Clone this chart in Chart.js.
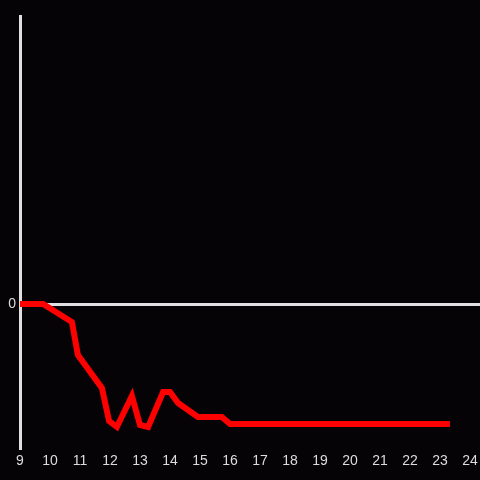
<!DOCTYPE html>
<html>
<head>
<meta charset="utf-8">
<style>
  html, body { margin: 0; padding: 0; background: #050306; }
  #wrap { width: 480px; height: 480px; }
</style>
<script src="https://cdn.jsdelivr.net/npm/chart.js@4"></script>
</head>
<body>
<div id="wrap"><canvas id="c" width="480" height="480"></canvas></div>
<script>
const hours = [9.0, 9.77, 10.73, 10.93, 11.73, 11.97, 12.23, 12.73, 13.0, 13.27, 13.77, 14.0, 14.27, 14.93, 15.73, 16.0, 23.33];
const values = [0, 0, -12.5, -35.4, -58.3, -81.3, -85.4, -63.9, -84, -85.4, -61.1, -61.1, -68.8, -78.5, -78.5, -83.3, -83.3];
const xTicks = [9, 10, 11, 12, 13, 14, 15, 16, 17, 18, 19, 20, 21, 22, 23, 24];
const yTicks = [0];

const points = hours.map((h, i) => ({ x: h, y: values[i] }));

new Chart(document.getElementById('c'), {
  type: 'line',
  data: {
    datasets: [{
      data: points,
      borderColor: '#ff0000',
      borderWidth: 6,
      pointRadius: 0,
      tension: 0,
      fill: false
    }]
  },
  options: {
    responsive: false,
    animation: false,
    layout: { padding: { top: 16, left: 0, right: 0, bottom: 0 } },
    plugins: { legend: { display: false }, tooltip: { enabled: false } },
    scales: {
      x: {
        type: 'linear',
        min: 9,
        max: 24.333,
        afterBuildTicks: s => { s.ticks = xTicks.map(v => ({ value: v })); },
        afterFit: s => { s.height = 32; s.paddingRight = 0; s.paddingLeft = 0; },
        grid: { display: false, drawTicks: false },
        border: { display: false },
        ticks: { color: '#dddddd', font: { family: 'Liberation Sans', size: 14 }, padding: 5, maxRotation: 0, autoSkip: false }
      },
      y: {
        min: -100,
        max: 200,
        afterBuildTicks: s => { s.ticks = yTicks.map(v => ({ value: v })); },
        afterFit: s => { s.width = 20; s.paddingTop = 0; s.paddingBottom = 0; },
        grid: { color: '#e0e0e0', lineWidth: 3, drawTicks: false },
        border: { display: true, color: '#e0e0e0', width: 3 },
        ticks: { color: '#dddddd', font: { family: 'Liberation Sans', size: 14 }, padding: 4 }
      }
    }
  },
  plugins: [{
    id: 'bg',
    beforeDraw: c => { const x = c.ctx; x.save(); x.fillStyle = '#050306'; x.fillRect(0, 0, c.width, c.height); x.restore(); }
  }]
});
</script>
</body>
</html>
